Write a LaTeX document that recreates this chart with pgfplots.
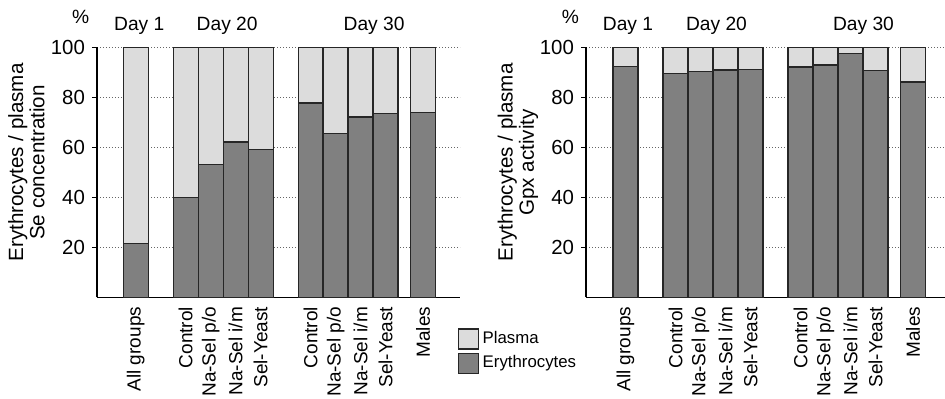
\documentclass[border=0pt]{standalone}
\usepackage{fontspec}
\setmainfont{Liberation Sans}
\usepackage{pgfplots}
\usepackage{pgfplotstable}
\pgfplotsset{compat=1.18}
\definecolor{plas}{HTML}{DCDCDC}
\definecolor{eryc}{HTML}{808080}

\pgfplotstableread{
x ery pla
0 21.5 78.5
2 40.0 60.0
3 53.2 46.8
4 62.2 37.8
5 59.2 40.8
7 77.8 22.2
8 65.7 34.3
9 72.2 27.8
10 73.6 26.4
11.5 74.0 26.0
}\leftdata

\pgfplotstableread{
x ery pla
0 92.5 7.5
2 89.6 10.4
3 90.4 9.6
4 91.0 9.0
5 91.3 8.7
7 92.2 7.8
8 93.0 7.0
9 97.5 2.5
10 90.9 9.1
11.5 86.2 13.8
}\rightdata

\newcommand{\tf}{\fontsize{9.6}{10.5}\selectfont}
\newcommand{\xf}{\fontsize{9.5}{11}\selectfont}
\newcommand{\yf}{\fontsize{10.2}{12}\selectfont}
\newcommand{\lf}{\fontsize{10.3}{10.6}\selectfont}
\newcommand{\gf}{\fontsize{8.4}{9}\selectfont}

\pgfplotsset{mystyle/.style={
  scale only axis, height=125pt, ymin=0, ymax=100,
  axis x line*=bottom, axis y line*=left,
  axis line style={line width=0.9pt, black, -},
  ytick={20,40,60,80,100}, tick align=outside, major tick length=2.5pt,
  ytick style={line width=0.7pt, black},
  xtick={0,2,3,4,5,7,8,9,10,11.5},
  xticklabels={All groups,Control,Na-Sel p/o,Na-Sel i/m,Sel-Yeast,Control,Na-Sel p/o,Na-Sel i/m,Sel-Yeast,Males},
  xtick style={draw=none},
  xticklabel style={rotate=90, anchor=east, font=\xf, inner sep=2pt},
  yticklabel style={font=\yf},
  /pgf/number format/assume math mode=true,
  ymajorgrids, grid style={black!60, line width=0.5pt, dash pattern=on 0.6pt off 0.9pt},
  ybar stacked, bar width=1,
  clip=false,
}}

\begin{document}
\begin{tikzpicture}
\useasboundingbox (0,0) rectangle (472.5pt,-199.5pt);
% left panel
\begin{axis}[mystyle, width=181.5pt, xmin=-1.55, xmax=12.98,
  anchor=south west, at={(48.5pt,-148.75pt)},
  legend style={at={(0.992,-0.118)}, anchor=north west, draw=none, fill=none,
    inner sep=0pt, row sep=0.5pt, font=\gf, legend cell align=left},
  reverse legend]
\addplot[fill=eryc, draw=black!85, line width=0.6pt,
  legend image code/.code={\draw[fill=eryc, draw=black!85, line width=0.6pt] (0pt,-5pt) rectangle (10pt,5pt);}]
  table[x=x, y=ery]{\leftdata};
\addlegendentry{Erythrocytes}
\addplot[fill=plas, draw=black!85, line width=0.6pt,
  legend image code/.code={\draw[fill=plas, draw=black!85, line width=0.6pt] (0pt,-5pt) rectangle (10pt,5pt);}]
  table[x=x, y=pla]{\leftdata};
\addlegendentry{Plasma}
\node[font=\tf] at (axis cs:-2.2,112.2) {\%};
\node[font=\tf] at (axis cs:0.14,108.8) {Day 1};
\node[font=\tf] at (axis cs:3.66,108.8) {Day 20};
\node[font=\tf] at (axis cs:9.54,108.8) {Day 30};
\node[font=\lf, rotate=90, align=center] at (axis cs:-4.38,54) {Erythrocytes / plasma\\Se concentration};
\end{axis}
% right panel
\begin{axis}[mystyle, width=179.5pt, xmin=-1.58, xmax=12.78,
  anchor=south west, at={(293pt,-148.75pt)}]
\addplot[fill=eryc, draw=black!85, line width=0.6pt] table[x=x, y=ery]{\rightdata};
\addplot[fill=plas, draw=black!85, line width=0.6pt] table[x=x, y=pla]{\rightdata};
\node[font=\tf] at (axis cs:-2.2,112.2) {\%};
\node[font=\tf] at (axis cs:0.1,108.8) {Day 1};
\node[font=\tf] at (axis cs:3.64,108.8) {Day 20};
\node[font=\tf] at (axis cs:9.52,108.8) {Day 30};
\node[font=\lf, rotate=90, align=center] at (axis cs:-4.3,54) {Erythrocytes / plasma\\Gpx activity};
\end{axis}
\end{tikzpicture}
\end{document}
